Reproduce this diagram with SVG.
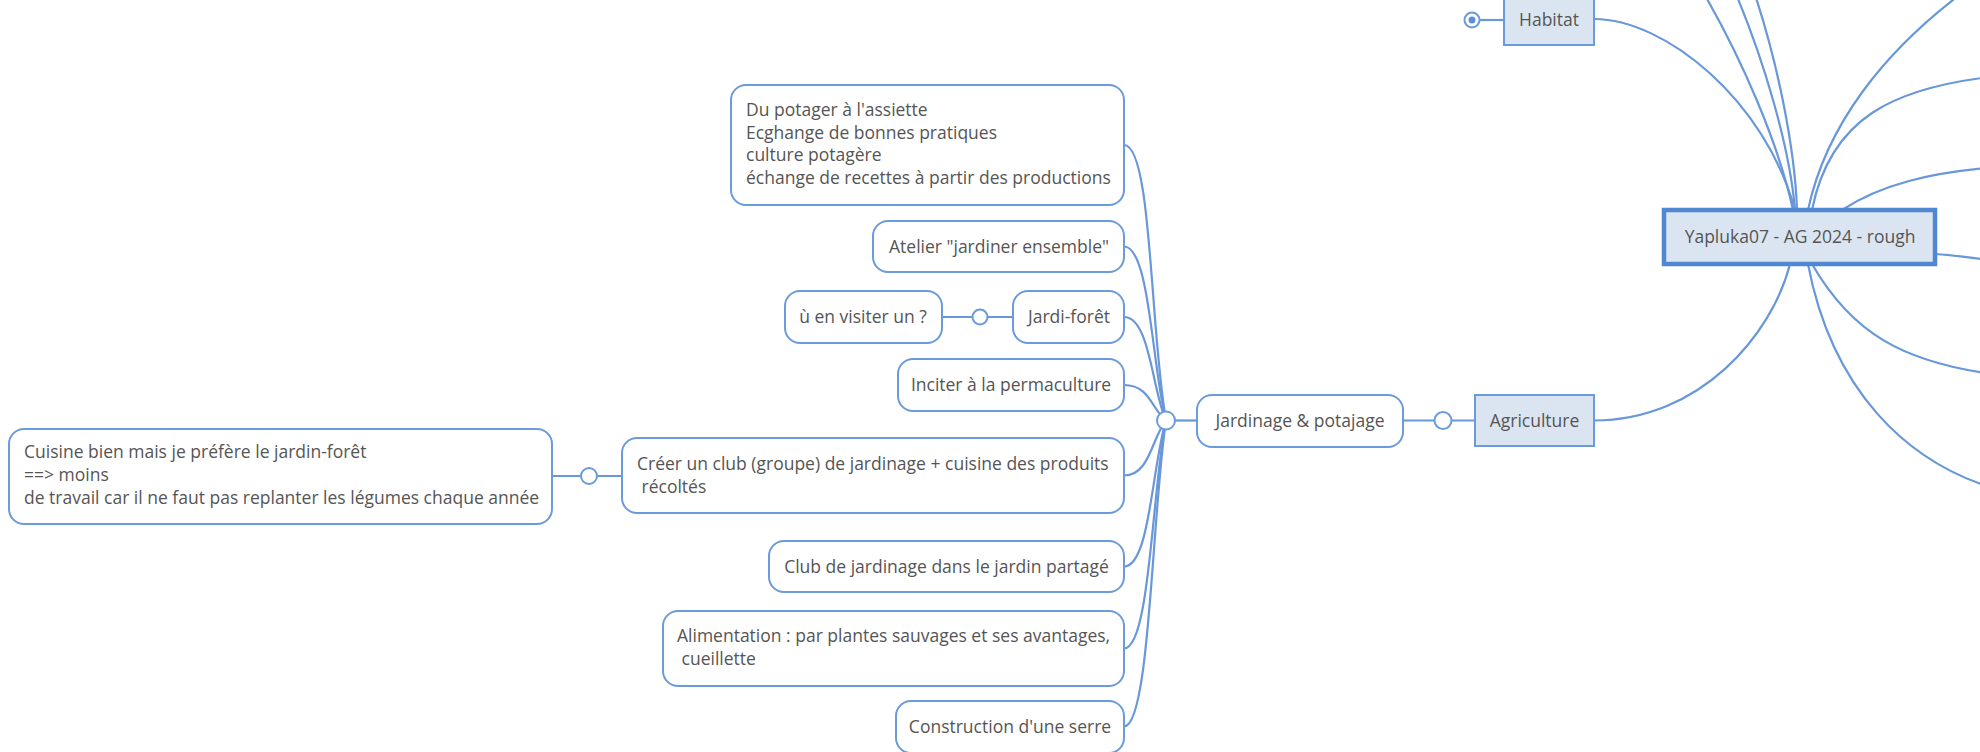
<svg xmlns="http://www.w3.org/2000/svg" width="1980" height="752" viewBox="0 0 1980 752">
<style>
.bg{fill:#ffffff}
.edge{fill:none;stroke:#6897da;stroke-width:2.2}
.node{fill:#ffffff;stroke:#6b9bdc;stroke-width:2}
.main{fill:#dbe5f1;stroke:#6b9bdc;stroke-width:2}
.root{fill:#dbe5f1;stroke:#4f87d3;stroke-width:4.5}
.fold{fill:#ffffff;stroke:#6b9bdc;stroke-width:2}
text{font-family:"Open Sans","Noto Sans","Liberation Sans",sans-serif;font-size:17.5px;fill:#555555}
.c{text-anchor:middle}
</style>
<rect class="bg" x="0" y="0" width="1980" height="752"/>
<g id="connectors">
  <!-- root edges -->
  <path class="edge" d="M1594 19 C1665 19 1765 100 1795 210"/>
  <path class="edge" d="M1793 210 C1780 150 1745 60 1690 -30"/>
  <path class="edge" d="M1795 210 C1790 150 1765 60 1730 -20"/>
  <path class="edge" d="M1797 210 C1795 150 1778 60 1750 -20"/>
  <path class="edge" d="M1808 210 C1825 130 1880 50 1980 -20"/>
  <path class="edge" d="M1812 210 C1830 120 1890 85 2010 75"/>
  <path class="edge" d="M1842 210 C1880 185 1930 172 2000 167"/>
  <path class="edge" d="M1935 254 C1955 255 1970 258 1990 260"/>
  <path class="edge" d="M1812 264 C1850 330 1900 365 2010 376"/>
  <path class="edge" d="M1808 264 C1830 380 1900 470 2020 495"/>
  <path class="edge" d="M1594 420.5 C1700 420.5 1772 335 1790 264"/>
  <!-- agriculture chain -->
  <path class="edge" d="M1403 420.5 L1475 420.5"/>
  <path class="edge" d="M1166 420.5 L1197 420.5"/>
  <!-- habitat fold -->
  <path class="edge" d="M1472 20 L1504 20"/>
  <!-- children -->
  <path class="edge" d="M1124 145 C1152 145 1150 330 1166 420.5"/>
  <path class="edge" d="M1124 246.5 C1150 246.5 1152 368 1166 420.5"/>
  <path class="edge" d="M1124 317 C1150 317 1152 390 1166 420.5"/>
  <path class="edge" d="M1124 385 C1150 385 1152 410 1166 420.5"/>
  <path class="edge" d="M1124 475.5 C1150 475.5 1152 437 1166 420.5"/>
  <path class="edge" d="M1124 566.5 C1150 566.5 1152 465 1166 420.5"/>
  <path class="edge" d="M1124 648.5 C1150 648.5 1152 490 1166 420.5"/>
  <path class="edge" d="M1124 726.5 C1150 726.5 1152 512 1166 420.5"/>
  <path class="edge" d="M942 317 L1013 317"/>
  <path class="edge" d="M552 476 L622 476"/>
</g>
<g id="root">
  <rect class="root" x="1664" y="210" width="271" height="54"/>
  <text class="c" x="1800" y="243">Yapluka07 - AG 2024 - rough</text>
</g>
<g id="habitat">
  <rect class="main" x="1504" y="-6" width="90" height="51"/>
  <text class="c" x="1549" y="26">Habitat</text>
  <circle class="fold" cx="1472" cy="20" r="7.5"/>
  <circle cx="1472" cy="20" r="3.5" fill="#5b8fd6"/>
</g>
<g id="agriculture">
  <rect class="main" x="1475" y="395" width="119" height="51"/>
  <text class="c" x="1534.5" y="427">Agriculture</text>
  <circle class="fold" cx="1443" cy="420.5" r="8.5"/>
</g>
<g id="jardinage">
  <rect class="node" x="1197" y="395" width="206" height="52" rx="15"/>
  <text class="c" x="1300" y="427">Jardinage &amp; potajage</text>
  <circle class="fold" cx="1166" cy="420.5" r="9"/>
</g>
<g id="potager">
  <rect class="node" x="731" y="85" width="393" height="120" rx="15"/>
  <text x="746" y="116">Du potager à l'assiette</text>
  <text x="746" y="138.5">Ecghange de bonnes pratiques</text>
  <text x="746" y="161">culture potagère</text>
  <text x="746" y="183.5">échange de recettes à partir des productions</text>
</g>
<g id="atelier">
  <rect class="node" x="873" y="221" width="251" height="51" rx="15"/>
  <text class="c" x="999" y="252.5">Atelier "jardiner ensemble"</text>
</g>
<g id="jardiforet">
  <rect class="node" x="1013" y="291" width="111" height="52" rx="15"/>
  <text class="c" x="1069" y="323">Jardi-forêt</text>
  <circle class="fold" cx="980" cy="317" r="7.5"/>
</g>
<g id="visiter">
  <rect class="node" x="785" y="291" width="157" height="52" rx="15"/>
  <text class="c" x="863" y="323">ù en visiter un ?</text>
</g>
<g id="permaculture">
  <rect class="node" x="898" y="359" width="226" height="52" rx="15"/>
  <text class="c" x="1011" y="391">Inciter à la permaculture</text>
</g>
<g id="club">
  <rect class="node" x="622" y="438" width="502" height="75" rx="15"/>
  <text x="637" y="470">Créer un club (groupe) de jardinage + cuisine des produits</text>
  <text x="637" y="492.5" xml:space="preserve"> récoltés</text>
  <circle class="fold" cx="589" cy="476" r="8"/>
</g>
<g id="cuisine">
  <rect class="node" x="9" y="429" width="543" height="95" rx="15"/>
  <text x="24" y="458">Cuisine bien mais je préfère le jardin-forêt</text>
  <text x="24" y="481">==&gt; moins</text>
  <text x="24" y="504">de travail car il ne faut pas replanter les légumes chaque année</text>
</g>
<g id="clubpartage">
  <rect class="node" x="769" y="541" width="355" height="51" rx="15"/>
  <text class="c" x="946.5" y="573">Club de jardinage dans le jardin partagé</text>
</g>
<g id="alimentation">
  <rect class="node" x="663" y="611" width="461" height="75" rx="15"/>
  <text x="677" y="642">Alimentation : par plantes sauvages et ses avantages,</text>
  <text x="677" y="665" xml:space="preserve"> cueillette</text>
</g>
<g id="serre">
  <rect class="node" x="896" y="701" width="228" height="52" rx="15"/>
  <text class="c" x="1010" y="733">Construction d'une serre</text>
</g>
</svg>
